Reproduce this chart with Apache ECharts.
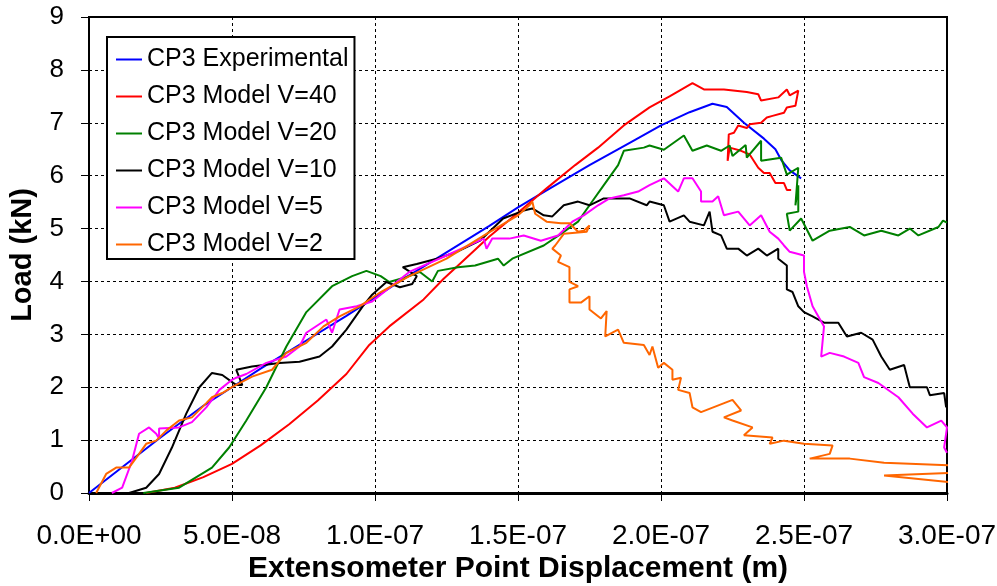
<!DOCTYPE html>
<html>
<head>
<meta charset="utf-8">
<script src="https://cdn.jsdelivr.net/npm/echarts@6/dist/echarts.min.js"></script>
<style>
  html, body { margin: 0; padding: 0; background: #fff; }
  #chart { width: 997px; height: 586px; }
</style>
</head>
<body>
<div id="chart"></div>
<script>
// x values are in units of 1e-8 m, loads in kN
const xTicks = [0, 5, 10, 15, 20, 25, 30];

const experimental = [
  [0, 0], [1, 0.42], [2.5, 1.05], [4, 1.65], [5, 2.0], [6, 2.35], [7.5, 2.85], [9, 3.35],
  [10, 3.7], [11, 4.05], [12.5, 4.55], [14, 5.05], [15, 5.4], [16, 5.72], [17.5, 6.2],
  [19, 6.65], [20, 6.95], [21, 7.2], [21.8, 7.36], [22.3, 7.3], [22.9, 7.0], [23.6, 6.7],
  [24, 6.5], [24.2, 6.3], [24.5, 6.1], [24.9, 5.95],
];

const modelV40 = [
  [2, 0], [3, 0.1], [4, 0.3], [5, 0.55], [6, 0.9], [7, 1.3], [8, 1.75], [9, 2.25], [9.8, 2.8],
  [10.5, 3.15], [11.7, 3.66], [12.4, 4.05], [13, 4.35], [14, 4.85], [15, 5.3], [16, 5.76],
  [17, 6.2], [17.8, 6.53], [18.7, 6.95], [19.6, 7.29], [20.3, 7.5], [21.1, 7.75], [21.5, 7.63],
  [22.2, 7.63], [23, 7.58], [23.4, 7.54], [23.5, 7.42], [24.1, 7.48], [24.4, 7.63], [24.5, 7.52],
  [24.8, 7.61], [24.7, 7.32], [24.4, 7.29], [24.3, 7.19], [23.9, 7.13], [23.7, 7.1], [23.5, 7.0],
  [23.1, 6.97], [23, 6.9], [22.7, 6.95], [22.55, 6.81], [22.37, 6.78], [22.33, 6.28], [22.4, 6.53],
  [22.8, 6.47], [23.1, 6.4], [23.4, 6.15], [23.6, 6.05], [23.8, 6.05], [24, 5.86], [24.3, 5.86],
  [24.4, 5.73], [24.55, 5.73],
];

const modelV20 = [
  [1.9, 0], [3.15, 0.1], [4.3, 0.48], [4.9, 0.86], [5.5, 1.37], [6.2, 2.0], [6.9, 2.77],
  [7.6, 3.42], [8.5, 3.91], [9.2, 4.1], [9.7, 4.2], [10.2, 4.1], [10.5, 3.99], [11.2, 4.1],
  [11.57, 4.18], [12.0, 4.0], [12.2, 4.2], [12.9, 4.27], [13.5, 4.3], [14.3, 4.43], [14.5, 4.3],
  [14.8, 4.43], [15.9, 4.68], [16.5, 4.9], [17.1, 5.13], [17.5, 5.44], [18.0, 5.82], [18.5, 6.2],
  [18.7, 6.47], [19.4, 6.53], [19.6, 6.57], [20.1, 6.49], [20.8, 6.76], [21.1, 6.47], [21.6, 6.57],
  [22.1, 6.47], [22.4, 6.57], [22.5, 6.37], [22.96, 6.58], [23.0, 6.34], [23.5, 6.66], [23.5, 6.28],
  [24.2, 6.34], [24.4, 6.02], [24.8, 6.15], [24.7, 5.44], [24.8, 5.82], [24.8, 5.32], [24.4, 5.28],
  [24.5, 4.96], [24.9, 5.19], [25.3, 4.77], [25.9, 4.96], [26.6, 5.03], [27.1, 4.87], [27.7, 4.96],
  [28.3, 4.87], [28.7, 5.0], [29.0, 4.87], [29.7, 5.03], [29.86, 5.15], [30, 5.11],
];

const modelV10 = [
  [1.4, 0], [2.0, 0.1], [2.45, 0.36], [2.9, 0.86], [3.4, 1.5], [3.86, 2.0], [4.3, 2.27],
  [4.66, 2.23], [5.15, 2.04], [5.36, 2.04], [5.15, 2.33], [5.7, 2.39], [6.66, 2.46], [7.36, 2.48],
  [8.06, 2.58], [8.5, 2.77], [9.0, 3.09], [9.57, 3.53], [9.9, 3.75], [10.4, 3.99], [10.87, 3.89],
  [11.3, 3.95], [11.46, 4.1], [10.97, 4.27], [11.46, 4.33], [12.16, 4.43], [12.86, 4.56],
  [13.67, 4.77], [14.48, 5.19], [15.2, 5.34], [15.5, 5.38], [15.9, 5.25], [16.2, 5.23],
  [16.6, 5.44], [17.1, 5.51], [17.5, 5.44], [18, 5.57], [18.5, 5.57], [18.9, 5.57], [19.5, 5.44],
  [19.6, 5.51], [20.1, 5.44], [20.3, 5.13], [20.8, 5.25], [21, 5.13], [21.5, 5.06], [21.7, 5.32],
  [21.8, 4.94], [22.1, 4.87], [22.3, 4.62], [22.7, 4.62], [23, 4.49], [23.4, 4.62], [23.7, 4.49],
  [24.1, 4.62], [24.1, 4.43], [24.4, 4.3], [24.4, 3.85], [24.6, 3.8], [24.8, 3.53], [25.0, 3.42],
  [25.3, 3.34], [25.7, 3.22], [26.2, 3.22], [26.5, 2.96], [27, 3.03], [27.4, 2.9], [27.7, 2.58],
  [28, 2.33], [28.5, 2.42], [28.7, 2.0], [29.3, 2.0], [29.4, 1.85], [29.9, 1.89], [29.97, 1.62],
];

const modelV5 = [
  [0.8, 0], [1.16, 0.1], [1.5, 0.6], [1.75, 1.12], [2.1, 1.24], [2.35, 1.12], [2.45, 1.03],
  [2.45, 1.22], [3.15, 1.24], [3.6, 1.34], [4.1, 1.62], [4.56, 1.95], [5.0, 2.14], [5.15, 2.18],
  [5.5, 2.25], [6.2, 2.46], [6.9, 2.58], [7.36, 2.77], [7.6, 3.03], [8.3, 3.28], [8.5, 3.03],
  [8.6, 3.2], [8.76, 3.47], [9.36, 3.53], [9.9, 3.62], [11.2, 4.18], [12.5, 4.49], [13.8, 4.81],
  [13.9, 4.62], [14.1, 4.81], [14.7, 4.81], [15.2, 4.87], [15.8, 4.77], [16.4, 4.87], [16.9, 5.13],
  [17.3, 5.25], [17.8, 5.44], [18.2, 5.57], [18.7, 5.63], [19.2, 5.7], [19.6, 5.82], [20.1, 5.95],
  [20.6, 5.7], [20.8, 5.95], [21.1, 5.95], [21.4, 5.7], [21.4, 5.51], [21.8, 5.51], [22.0, 5.61],
  [22.2, 5.25], [22.7, 5.32], [23.1, 5.06], [23.5, 5.25], [23.8, 4.94], [24.1, 4.81], [24.3, 4.68],
  [24.5, 4.56], [25.0, 4.49], [25.0, 4.18], [25.1, 3.91], [25.3, 3.53], [25.7, 3.15], [25.6, 2.58],
  [25.9, 2.65], [26.4, 2.58], [26.9, 2.46], [27.1, 2.19], [27.6, 2.08], [28.3, 1.81], [28.8, 1.5],
  [29.3, 1.24], [29.8, 1.37], [30, 1.24], [29.9, 0.86], [30, 0.76],
];

const modelV2 = [
  [0.25, 0], [0.6, 0.36], [0.95, 0.48], [1.4, 0.48], [1.75, 0.74], [2.0, 0.93], [2.35, 0.99],
  [2.7, 1.18], [3.15, 1.37], [3.6, 1.43], [4.1, 1.7], [4.3, 1.81], [4.66, 1.89], [5.0, 2.0],
  [5.7, 2.2], [6.4, 2.33], [6.9, 2.65], [7.6, 2.84], [8.2, 3.15], [8.76, 3.34], [9.46, 3.53],
  [10.2, 3.8], [11.2, 4.1], [12.5, 4.43], [13.9, 4.9], [15.0, 5.25], [15.4, 5.44], [15.5, 5.51],
  [15.6, 5.28], [16.0, 5.13], [16.5, 5.1], [16.8, 5.1], [17.1, 4.94], [17.3, 4.96], [17.5, 5.06],
  [17.4, 4.94], [16.6, 4.9], [16.3, 4.68], [16.2, 4.62], [16.5, 4.49], [16.4, 4.37], [16.8, 4.27],
  [16.8, 3.99], [17.1, 3.91], [16.8, 3.85], [16.8, 3.6], [17.2, 3.6], [17.5, 3.72], [17.5, 3.47],
  [17.9, 3.3], [18.1, 3.44], [18.05, 2.96], [18.5, 3.09], [18.7, 2.84], [19.4, 2.8], [19.6, 2.61],
  [19.7, 2.77], [19.9, 2.37], [20.1, 2.46], [20.4, 2.33], [20.4, 2.14], [20.7, 2.18], [20.6, 1.95],
  [21.0, 1.89], [21.1, 1.62], [21.4, 1.53], [22.5, 1.76], [22.8, 1.56], [22.2, 1.43], [22.5, 1.37],
  [23.2, 1.24], [22.9, 1.09], [23.9, 1.05], [23.8, 0.93], [24.3, 0.99], [25.0, 0.93], [26.0, 0.9],
  [25.9, 0.74], [25.2, 0.65], [26.6, 0.65], [27.8, 0.57], [30.2, 0.52], [30.2, 0.38], [27.8, 0.33],
  [30.2, 0.2],
];

const seriesDefs = [
  { name: 'CP3 Experimental', data: experimental, color: '#0000ff' },
  { name: 'CP3 Model V=40', data: modelV40, color: '#ff0000' },
  { name: 'CP3 Model V=20', data: modelV20, color: '#008000' },
  { name: 'CP3 Model V=10', data: modelV10, color: '#000000' },
  { name: 'CP3 Model V=5', data: modelV5, color: '#ff00ff' },
  { name: 'CP3 Model V=2', data: modelV2, color: '#ff6600' },
];

const FONT = '"Liberation Sans", Arial, sans-serif';

// 5 -> "5.0E-08"
const sci = (v) => {
  const [m, e] = (v * 1e-8).toExponential(1).split('e');
  const n = parseInt(e, 10);
  return m + 'E' + (n < 0 ? '-' : '+') + String(Math.abs(n)).padStart(2, '0');
};

const chart = echarts.init(document.getElementById('chart'), null, { renderer: 'canvas' });

chart.setOption({
  animation: false,
  backgroundColor: '#fff',
  grid: {
    left: 89, right: 50, top: 17, bottom: 93,
    containLabel: false, outerBoundsMode: 'none',
    show: true, borderColor: '#000', borderWidth: 2, backgroundColor: 'transparent',
  },
  legend: {
    orient: 'vertical',
    left: 107, top: 37,
    padding: [10, 6, 2, 9],
    itemGap: 12,
    itemWidth: 26, itemHeight: 2,
    icon: 'rect',
    backgroundColor: '#fff',
    borderColor: '#000', borderWidth: 2,
    textStyle: { fontFamily: FONT, fontSize: 25, lineHeight: 24, color: '#000' },
    data: seriesDefs.map((s) => s.name),
  },
  xAxis: {
    type: 'value', min: xTicks[0], max: xTicks[xTicks.length - 1], interval: 5,
    name: 'Extensometer Point Displacement (m)',
    nameLocation: 'middle', nameGap: 61, nameMoveOverlap: false,
    nameTextStyle: { fontFamily: FONT, fontSize: 30, fontWeight: 'bold', color: '#000' },
    axisLine: { onZero: false, lineStyle: { color: '#000', width: 3 } },
    axisTick: { show: true, inside: false, length: 8, lineStyle: { color: '#000', width: 1 } },
    axisLabel: { formatter: sci, fontFamily: FONT, fontSize: 28, color: '#000', margin: 29 },
    splitLine: { show: true, lineStyle: { color: '#000', width: 1, type: [3, 3] } },
  },
  yAxis: {
    type: 'value', min: 0, max: 9, interval: 1,
    name: 'Load (kN)',
    nameLocation: 'middle', nameGap: 52, nameRotate: 90, nameMoveOverlap: false,
    nameTextStyle: { fontFamily: FONT, fontSize: 29, fontWeight: 'bold', color: '#000' },
    axisLine: { show: true, onZero: false, lineStyle: { color: '#000', width: 2 } },
    axisTick: { show: true, inside: false, length: 8, lineStyle: { color: '#000', width: 1 } },
    axisLabel: { fontFamily: FONT, fontSize: 26, color: '#000', margin: 25 },
    splitLine: { show: true, lineStyle: { color: '#000', width: 1, type: [3, 3] } },
  },
  series: seriesDefs.map((s) => ({
    name: s.name,
    type: 'line',
    data: s.data,
    color: s.color,
    showSymbol: false,
    symbol: 'none',
    clip: true,
    lineStyle: { color: s.color, width: 2 },
    emphasis: { disabled: true },
  })),
});
</script>
</body>
</html>
